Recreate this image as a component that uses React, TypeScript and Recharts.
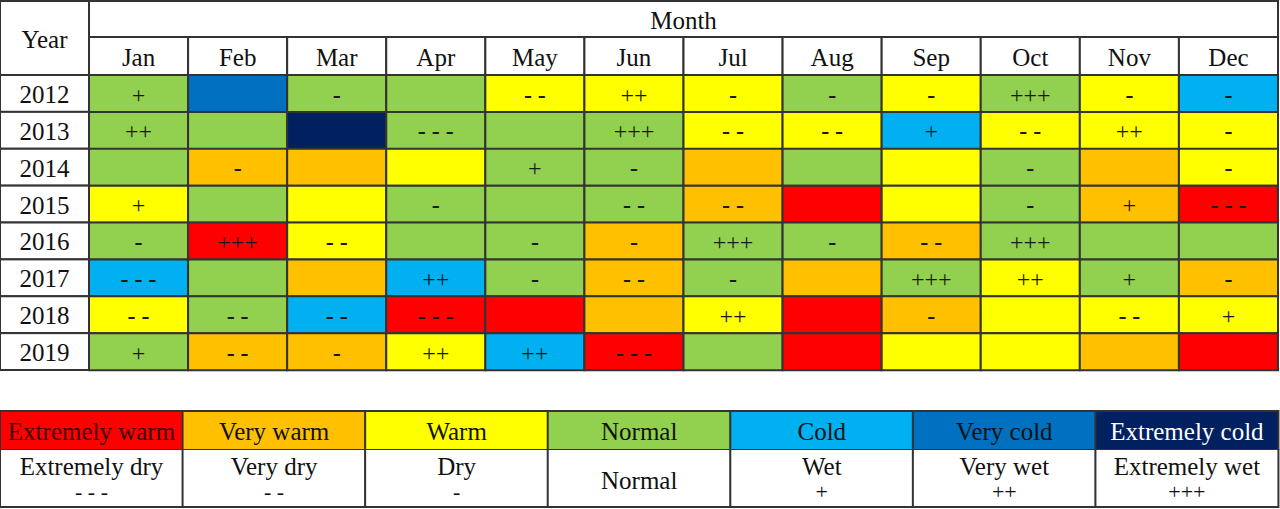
import { BarChart, Bar, XAxis, YAxis, Cell, LabelList } from "recharts";

const years = ["2012", "2013", "2014", "2015", "2016", "2017", "2018", "2019"];
const months = ["Jan", "Feb", "Mar", "Apr", "May", "Jun", "Jul", "Aug", "Sep", "Oct", "Nov", "Dec"];

// temperature class per month (EW, VW, W, N, C, VC, EC)
const temperature = [
    ["N", "VC", "N", "N", "W", "W", "W", "N", "W", "N", "W", "C"],
    ["N", "N", "EC", "N", "N", "N", "W", "W", "C", "W", "W", "W"],
    ["N", "VW", "VW", "W", "N", "N", "VW", "N", "W", "N", "VW", "W"],
    ["W", "N", "W", "N", "N", "N", "VW", "EW", "W", "N", "VW", "EW"],
    ["N", "EW", "W", "N", "N", "VW", "N", "N", "VW", "N", "N", "N"],
    ["C", "N", "VW", "C", "N", "VW", "N", "VW", "N", "W", "N", "VW"],
    ["W", "N", "C", "EW", "EW", "VW", "W", "EW", "VW", "W", "W", "W"],
    ["N", "VW", "VW", "W", "C", "EW", "N", "EW", "W", "W", "VW", "EW"],
];

// precipitation class per month
const precipitation = [
    ["+", "", "-", "", "- -", "++", "-", "-", "-", "+++", "-", "-"],
    ["++", "", "", "- - -", "", "+++", "- -", "- -", "+", "- -", "++", "-"],
    ["", "-", "", "", "+", "-", "", "", "", "-", "", "-"],
    ["+", "", "", "-", "", "- -", "- -", "", "", "-", "+", "- - -"],
    ["-", "+++", "- -", "", "-", "-", "+++", "-", "- -", "+++", "", ""],
    ["- - -", "", "", "++", "-", "- -", "-", "", "+++", "++", "+", "-"],
    ["- -", "- -", "- -", "- - -", "", "", "++", "", "-", "", "- -", "+"],
    ["+", "- -", "-", "++", "++", "- - -", "", "", "", "", "", ""],
];

const tempKeys = ["EW", "VW", "W", "N", "C", "VC", "EC"];
const tempNames = ["Extremely warm", "Very warm", "Warm", "Normal", "Cold", "Very cold", "Extremely cold"];
const rainNames = ["Extremely dry", "Very dry", "Dry", "Normal", "Wet", "Very wet", "Extremely wet"];
const rainSymbols = ["- - -", "- -", "-", "", "+", "++", "+++"];

const colors: Record<string, string> = {
    EW: "#FF0000",
    VW: "#FFC000",
    W: "#FFFF00",
    N: "#92D050",
    C: "#00B0F0",
    VC: "#0070C0",
    EC: "#002060",
};

const FONT = "'Liberation Serif', 'Times New Roman', serif";
const FS = 25;
const BORDER = "#333";
const W = 1280;
const YEAR_W = 89;
const PLOT_W = W - YEAR_W - 2;
const COL_W = PLOT_W / months.length;
const HEAD_H = 75;
const ROW_H = (370 - HEAD_H) / years.length;

const rows = years.map((year, r) => {
    const row: Record<string, string | number> = { year };
    months.forEach((_, i) => {
        row[`v${i}`] = 1;
        row[`t${i}`] = temperature[r][i];
        row[`s${i}`] = precipitation[r][i];
    });
    return row;
});

const legendTemp = tempNames.map((name, i) => ({ name, key: tempKeys[i], v: 1 }));
const legendRain = rainNames.map((name, i) => ({ name, sym: rainSymbols[i], v: 1 }));

function MonthTick(props: any) {
    const { x, index } = props;
    return (
        <g>
            <rect x={x - COL_W / 2} y={37} width={COL_W} height={HEAD_H - 37} fill="#fff" stroke={BORDER} strokeWidth={2} />
            <text x={x} y={57} textAnchor="middle" dominantBaseline="central" fontFamily={FONT} fontSize={FS} fill="#111">
                {months[index]}
            </text>
        </g>
    );
}

function MonthHeader(props: any) {
    const vb = props.viewBox || {};
    const x = vb.x ?? YEAR_W;
    const width = vb.width ?? PLOT_W;
    return (
        <g>
            <rect x={x} y={1} width={width} height={36} fill="#fff" stroke={BORDER} strokeWidth={2} />
            <text x={x + width / 2} y={20} textAnchor="middle" dominantBaseline="central" fontFamily={FONT} fontSize={FS} fill="#111">
                Month
            </text>
        </g>
    );
}

function YearTick(props: any) {
    const { y, payload } = props;
    return (
        <g>
            <rect x={0} y={y - ROW_H / 2} width={YEAR_W} height={ROW_H} fill="#fff" stroke={BORDER} strokeWidth={2} />
            <text x={YEAR_W / 2} y={y + 1} textAnchor="middle" dominantBaseline="central" fontFamily={FONT} fontSize={FS} fill="#111">
                {payload.value}
            </text>
        </g>
    );
}

function YearHeader() {
    return (
        <g>
            <rect x={0} y={1} width={YEAR_W} height={HEAD_H - 1} fill="#fff" stroke={BORDER} strokeWidth={2} />
            <text x={YEAR_W / 2} y={39} textAnchor="middle" dominantBaseline="central" fontFamily={FONT} fontSize={FS} fill="#111">
                Year
            </text>
        </g>
    );
}

function SymbolLabel(props: any) {
    const { x, y, width, height, value } = props;
    if (!value) return null;
    const dash = String(value).includes("-");
    return (
        <text
            x={x + width / 2}
            y={y + height / 2 + 1}
            textAnchor="middle"
            dominantBaseline="central"
            fontFamily={FONT}
            fontSize={24}
            fontWeight={dash ? "bold" : "normal"}
            fill="#1a1a1a"
        >
            {value}
        </text>
    );
}

function TempLegendLabel(props: any) {
    const { x, y, width, height, index } = props;
    const key = tempKeys[index];
    const fill = key === "EC" ? "#fff" : key === "EW" ? "#3a0000" : "#111";
    return (
        <text x={x + width / 2} y={y + height / 2 + 1} textAnchor="middle" dominantBaseline="central" fontFamily={FONT} fontSize={FS} fill={fill}>
            {tempNames[index]}
        </text>
    );
}

function RainLegendLabel(props: any) {
    const { x, y, width, height, index } = props;
    const cx = x + width / 2;
    const sym = rainSymbols[index];
    if (!sym) {
        return (
            <text x={cx} y={y + height / 2 + 2} textAnchor="middle" dominantBaseline="central" fontFamily={FONT} fontSize={FS} fill="#111">
                {rainNames[index]}
            </text>
        );
    }
    return (
        <g>
            <text x={cx} y={y + 17} textAnchor="middle" dominantBaseline="central" fontFamily={FONT} fontSize={FS} fill="#111">
                {rainNames[index]}
            </text>
            <text x={cx} y={y + 42} textAnchor="middle" dominantBaseline="central" fontFamily={FONT} fontSize={22} fill="#111">
                {sym}
            </text>
        </g>
    );
}

export default function App() {
    return (
        <div style={{ position: "absolute", left: 0, top: 0, width: W, height: 509, background: "#fff", fontFamily: FONT }}>
            <BarChart
                width={W}
                height={372}
                layout="vertical"
                data={rows}
                margin={{ top: 0, right: 2, left: 0, bottom: 2 }}
                barCategoryGap={0}
                barGap={0}
            >
                <XAxis
                    type="number"
                    orientation="top"
                    domain={[0, months.length]}
                    ticks={months.map((_, i) => i + 0.5)}
                    height={HEAD_H}
                    axisLine={false}
                    tickLine={false}
                    tick={<MonthTick />}
                    interval={0}
                    label={{ content: <MonthHeader /> }}
                />
                <YAxis
                    type="category"
                    dataKey="year"
                    width={YEAR_W}
                    axisLine={false}
                    tickLine={false}
                    tick={<YearTick />}
                    interval={0}
                    label={{ content: <YearHeader /> }}
                />
                {months.map((_, i) => (
                    <Bar key={i} dataKey={`v${i}`} stackId="m" isAnimationActive={false} stroke={BORDER} strokeWidth={2}>
                        {rows.map((row, r) => (
                            <Cell key={r} fill={colors[row[`t${i}`] as string]} />
                        ))}
                        <LabelList dataKey={`s${i}`} content={<SymbolLabel />} />
                    </Bar>
                ))}
            </BarChart>

            <div style={{ position: "absolute", left: 0, top: 410 }}>
                <BarChart width={W} height={40} data={legendTemp} margin={{ top: 1, right: 2, left: 0, bottom: 0 }} barCategoryGap={0}>
                    <XAxis dataKey="name" hide />
                    <YAxis hide domain={[0, 1]} />
                    <Bar dataKey="v" isAnimationActive={false} stroke={BORDER} strokeWidth={2}>
                        {legendTemp.map((d, i) => (
                            <Cell key={i} fill={colors[d.key]} />
                        ))}
                        <LabelList dataKey="name" content={<TempLegendLabel />} />
                    </Bar>
                </BarChart>
            </div>
            <div style={{ position: "absolute", left: 0, top: 449 }}>
                <BarChart width={W} height={59} data={legendRain} margin={{ top: 0, right: 2, left: 0, bottom: 1 }} barCategoryGap={0}>
                    <XAxis dataKey="name" hide />
                    <YAxis hide domain={[0, 1]} />
                    <Bar dataKey="v" isAnimationActive={false} fill="#fff" stroke={BORDER} strokeWidth={2}>
                        <LabelList dataKey="name" content={<RainLegendLabel />} />
                    </Bar>
                </BarChart>
            </div>
        </div>
    );
}
